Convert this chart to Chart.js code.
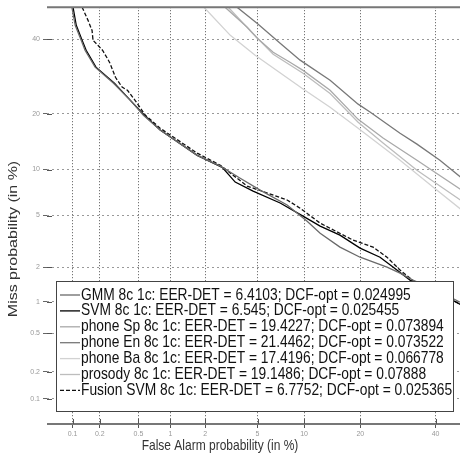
<!DOCTYPE html>
<html>
<head>
<meta charset="utf-8">
<title>DET curves</title>
<script src="https://cdn.jsdelivr.net/npm/chart.js@4.4.0/dist/chart.umd.min.js"></script>
<style>
  html, body { margin: 0; padding: 0; background: #fff; }
  #wrap { width: 460px; height: 454px; }
</style>
</head>
<body>
<div id="wrap"><canvas id="det" width="460" height="454"></canvas></div>
<script>
// axis ticks (in %), both axes use the same normal-deviate ticks
const tickValues = [0.1, 0.2, 0.5, 1, 2, 5, 10, 20, 40];
const tickLabels = ['0.1', '0.2', '0.5', '1', '2', '5', '10', '20', '40'];

// legend entries
const seriesNames = ['GMM 8c 1c', 'SVM 8c 1c', 'phone Sp 8c 1c', 'phone En 8c 1c', 'phone Ba 8c 1c', 'prosody 8c 1c', 'Fusion SVM 8c 1c'];
const eerDet = ['6.4103', '6.545', '19.4227', '21.4462', '17.4196', '19.1486', '6.7752'];
const dcfOpt = ['0.024995', '0.025455', '0.073894', '0.073522', '0.066778', '0.07888', '0.025365'];

// curves: [false alarm %, miss %]
const gmm = [[0.098, 50], [0.107, 44.3], [0.125, 39.7], [0.138, 36.7], [0.178, 31.8], [0.28, 27.4], [0.416, 23.1], [0.559, 19.7], [0.806, 16.6], [1.715, 12.1], [2.645, 10.47], [3.75, 8.85], [5.21, 7.43], [7.87, 5.92], [10.43, 4.56], [12.39, 3.72], [15.84, 2.91], [19.94, 2.42], [26.33, 2.01], [29.76, 1.79], [33.34, 1.56], [41.3, 1.23], [48.09, 0.975]];
const svm = [[0.101, 50], [0.11, 44.3], [0.128, 39.7], [0.142, 36.7], [0.182, 31.8], [0.286, 27.4], [0.416, 23.1], [0.571, 19.7], [0.806, 16.6], [1.715, 12.1], [2.735, 10.3], [3.44, 8.37], [4.65, 7.33], [7.1, 6.11], [9.86, 4.95], [12.39, 4.2], [15.84, 3.6], [19.94, 2.86], [24.58, 2.42], [27.87, 2.01], [32.51, 1.56], [41.3, 1.2], [48.09, 0.93]];
const phoneSp = [[2.878, 50], [4.22, 43.7], [4.98, 40.3], [6.39, 36.1], [8.2, 33.2], [9.86, 30.9], [14.05, 25.6], [19.52, 18.8], [25.33, 15.1], [34.49, 11.35], [48.09, 7.43]];
const phoneEn = [[3.55, 50], [4.98, 44.9], [7.1, 38.8], [9.47, 33.8], [14.05, 28.2], [19.52, 22.2], [22.18, 20.4], [29.76, 15.99], [34.49, 13.98], [41.3, 11.35], [48.09, 8.85]];
const phoneBa = [[1.95, 50], [3.16, 41.2], [4.81, 35.2], [9.72, 26.1], [14.05, 21.5], [19.52, 16.97], [29.76, 11.35], [39.21, 7.78], [48.09, 5.45]];
const prosody = [[3.045, 50], [4.42, 42.7], [6.39, 35.5], [9.86, 30.1], [14.05, 24.8], [19.52, 18.2], [25.33, 14.2], [34.49, 9.9], [48.09, 6.3]];
const fusion = [[0.128, 50], [0.149, 45.86], [0.165, 42.7], [0.169, 39.7], [0.191, 38.2], [0.214, 36.7], [0.241, 34.3], [0.257, 32.9], [0.293, 29.0], [0.343, 26.4], [0.389, 25.6], [0.463, 23.1], [0.584, 19.7], [0.806, 16.97], [1.715, 12.46], [2.645, 10.6], [4.22, 7.89], [5.83, 7.12], [7.87, 6.4], [9.47, 5.63], [12.39, 4.41], [18.43, 3.3], [22.9, 2.91], [26.33, 2.42], [29.76, 1.9], [33.92, 1.5], [41.3, 1.2], [48.09, 0.93]];

const curves = [gmm, svm, phoneSp, phoneEn, phoneBa, prosody, fusion];
const colors = ['#6a6a6a', '#000000', '#a9a9a9', '#787878', '#d2d2d2', '#bdbdbd', '#111111'];

// inverse normal cdf (Acklam)
function probit(p) {
  const a = [-3.969683028665376e+01, 2.209460984245205e+02, -2.759285104469687e+02, 1.383577518672690e+02, -3.066479806614716e+01, 2.506628277459239e+00];
  const b = [-5.447609879822406e+01, 1.615858368580409e+02, -1.556989798598866e+02, 6.680131188771972e+01, -1.328068155288572e+01];
  const c = [-7.784894002430293e-03, -3.223964580411365e-01, -2.400758277161838e+00, -2.549732539343734e+00, 4.374664141464968e+00, 2.938163982698783e+00];
  const d = [7.784695709041462e-03, 3.224671290700398e-01, 2.445134137142996e+00, 3.754408661907416e+00];
  const pl = 0.02425;
  let q, r;
  if (p < pl) {
    q = Math.sqrt(-2 * Math.log(p));
    return (((((c[0] * q + c[1]) * q + c[2]) * q + c[3]) * q + c[4]) * q + c[5]) / ((((d[0] * q + d[1]) * q + d[2]) * q + d[3]) * q + 1);
  }
  if (p <= 1 - pl) {
    q = p - 0.5; r = q * q;
    return (((((a[0] * r + a[1]) * r + a[2]) * r + a[3]) * r + a[4]) * r + a[5]) * q / (((((b[0] * r + b[1]) * r + b[2]) * r + b[3]) * r + b[4]) * r + 1);
  }
  q = Math.sqrt(-2 * Math.log(1 - p));
  return -(((((c[0] * q + c[1]) * q + c[2]) * q + c[3]) * q + c[4]) * q + c[5]) / ((((d[0] * q + d[1]) * q + d[2]) * q + d[3]) * q + 1);
}
const dev = pct => probit(pct / 100);

const FONT = "'Liberation Sans', Arial, sans-serif";

const datasets = curves.map((pts, i) => ({
  label: seriesNames[i] + ': EER-DET = ' + eerDet[i] + '; DCF-opt = ' + dcfOpt[i],
  data: pts.map(p => ({ x: dev(p[0]), y: dev(p[1]) })),
  borderColor: colors[i],
  borderWidth: 1.3,
  borderDash: i === 6 ? [4, 2] : [],
  showLine: true,
  pointRadius: 0,
  tension: 0,
}));

// titles, frame and the boxed legend
const decor = {
  id: 'decor',
  afterDraw(chart) {
    const ctx = chart.ctx;
    const area = chart.chartArea;
    const xs = chart.scales.x, ys = chart.scales.y;
    ctx.save();

    // top and bottom frame
    ctx.strokeStyle = '#777';
    ctx.lineWidth = 2;
    ctx.beginPath();
    ctx.moveTo(area.left, area.top); ctx.lineTo(area.right, area.top);
    ctx.moveTo(area.left, area.bottom); ctx.lineTo(area.right, area.bottom);
    ctx.stroke();

    // inner tick marks
    ctx.strokeStyle = '#555';
    ctx.lineWidth = 1;
    ctx.beginPath();
    tickValues.forEach(v => {
      const px = Math.round(xs.getPixelForValue(dev(v))) + 0.5;
      ctx.moveTo(px, area.bottom); ctx.lineTo(px, area.bottom - 5);
      const py = Math.round(ys.getPixelForValue(dev(v))) + 0.5;
      ctx.moveTo(area.left, py); ctx.lineTo(area.left + 5, py);
    });
    ctx.stroke();

    // axis titles (source figure is stretched vertically)
    ctx.fillStyle = '#333';
    ctx.textAlign = 'center';
    ctx.textBaseline = 'middle';
    ctx.font = '12px ' + FONT;
    ctx.save();
    ctx.translate(220, 446);
    ctx.scale(1, 1.23);
    ctx.fillText('False Alarm probability (in %)', 0, 0);
    ctx.restore();

    ctx.save();
    ctx.translate(13, 239);
    ctx.rotate(-Math.PI / 2);
    ctx.scale(1.23, 1);
    ctx.font = '13px ' + FONT;
    ctx.fillText('Miss probability (in %)', 0, 0);
    ctx.restore();

    // legend
    const bx = 56, by = 281, bw = 397, bh = 130;
    ctx.fillStyle = '#fff';
    ctx.fillRect(bx, by, bw, bh);
    ctx.strokeStyle = '#444';
    ctx.lineWidth = 1;
    ctx.strokeRect(bx + 0.5, by + 0.5, bw, bh);
    ctx.textAlign = 'left';
    ctx.font = '13.8px ' + FONT;
    chart.data.datasets.forEach((ds, i) => {
      const ry = 295 + i * 15.9;
      ctx.save();
      ctx.strokeStyle = ds.borderColor;
      ctx.lineWidth = 1.3;
      ctx.setLineDash(ds.borderDash);
      ctx.beginPath();
      ctx.moveTo(60, ry); ctx.lineTo(80, ry);
      ctx.stroke();
      ctx.restore();
      ctx.save();
      ctx.fillStyle = '#111';
      ctx.translate(81, ry);
      ctx.scale(1, 1.2);
      ctx.fillText(ds.label, 0, 0);
      ctx.restore();
    });

    ctx.restore();
  }
};

const tickFont = { family: FONT, size: 7 };

new Chart(document.getElementById('det'), {
  type: 'scatter',
  data: { datasets: datasets },
  options: {
    responsive: false,
    animation: false,
    devicePixelRatio: 1,
    layout: { padding: { top: 7, right: 0, left: 0, bottom: 0 } },
    scales: {
      x: {
        type: 'linear',
        min: dev(0.05),
        max: dev(47.5),
        afterBuildTicks: s => { s.ticks = tickValues.map(v => ({ value: dev(v) })); },
        afterFit: s => { s.height = 30; },
        ticks: { callback: (v, i) => tickLabels[i], font: tickFont, color: '#999', padding: 2, maxRotation: 0, autoSkip: false },
        grid: { color: '#555', tickColor: '#555', tickLength: 4, lineWidth: 1 },
        border: { display: false, dash: [1, 2] },
      },
      y: {
        type: 'linear',
        min: dev(0.05),
        max: 0,
        afterBuildTicks: s => { s.ticks = tickValues.map(v => ({ value: dev(v) })); },
        afterFit: s => { s.width = 47; },
        ticks: { callback: (v, i) => tickLabels[i], font: tickFont, color: '#999', padding: 3, autoSkip: false },
        grid: { color: '#999', tickColor: '#666', tickLength: 4, lineWidth: 1 },
        border: { display: false, dash: [2, 3] },
      },
    },
    plugins: {
      legend: { display: false },
      tooltip: { enabled: false },
    },
  },
  plugins: [decor],
});
</script>
</body>
</html>
